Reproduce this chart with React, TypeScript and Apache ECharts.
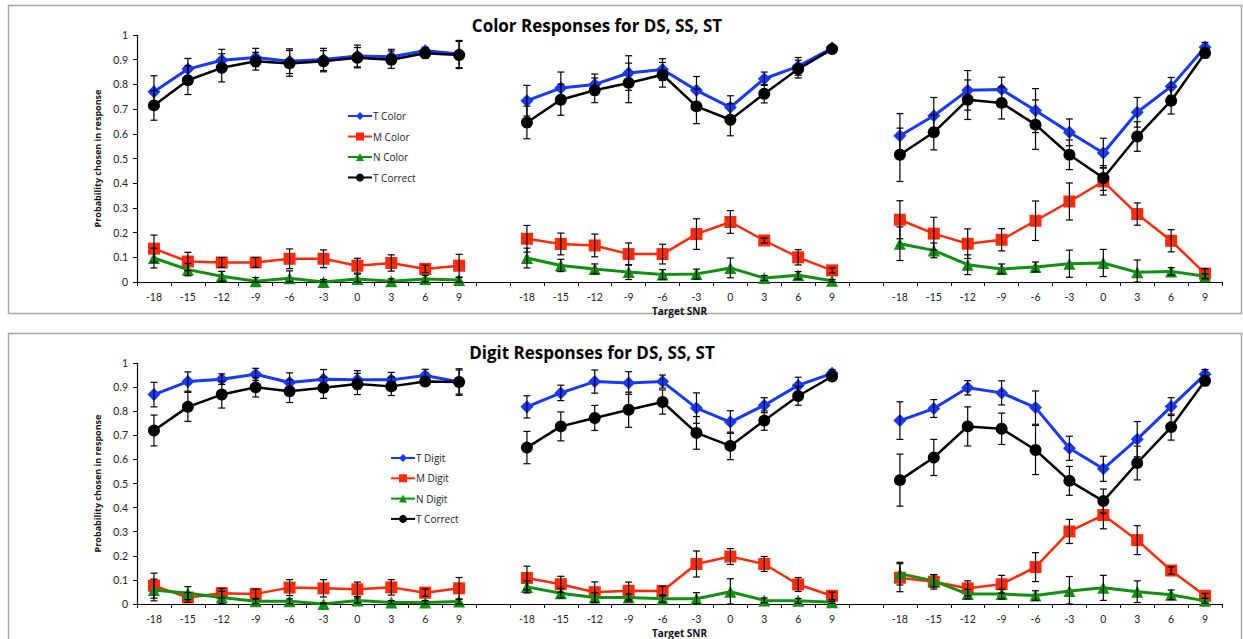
import React, { useEffect, useRef } from "react";
import * as echarts from "echarts";

const snrLabels = ["-18", "-15", "-12", "-9", "-6", "-3", "0", "3", "6", "9"];

// Color panel (DS, SS, ST groups concatenated)
const colorT = [0.77, 0.862, 0.898, 0.909, 0.894, 0.901, 0.915, 0.912, 0.936, 0.923,
  0.734, 0.785, 0.8, 0.846, 0.86, 0.776, 0.707, 0.823, 0.873, 0.947,
  0.592, 0.673, 0.776, 0.779, 0.694, 0.606, 0.522, 0.687, 0.792, 0.95];
const colorTErr = [0.065, 0.043, 0.044, 0.037, 0.05, 0.045, 0.044, 0.03, 0.014, 0.055,
  0.062, 0.065, 0.042, 0.07, 0.044, 0.056, 0.047, 0.027, 0.036, 0.01,
  0.09, 0.074, 0.08, 0.05, 0.089, 0.054, 0.06, 0.06, 0.036, 0.02];
const colorM = [0.135, 0.083, 0.079, 0.079, 0.094, 0.094, 0.066, 0.077, 0.053, 0.066,
  0.175, 0.154, 0.148, 0.113, 0.113, 0.194, 0.243, 0.168, 0.1, 0.047,
  0.252, 0.196, 0.155, 0.171, 0.248, 0.326, 0.407, 0.275, 0.167, 0.034];
const colorMErr = [0.055, 0.037, 0.02, 0.02, 0.04, 0.036, 0.03, 0.033, 0.015, 0.046,
  0.054, 0.044, 0.046, 0.045, 0.04, 0.062, 0.046, 0.01, 0.031, 0.01,
  0.077, 0.066, 0.06, 0.045, 0.08, 0.075, 0.055, 0.045, 0.045, 0.02];
const colorN = [0.097, 0.05, 0.023, 0.003, 0.015, 0.0, 0.012, 0.003, 0.012, 0.008,
  0.097, 0.067, 0.053, 0.04, 0.03, 0.032, 0.057, 0.016, 0.027, 0.005,
  0.155, 0.128, 0.07, 0.053, 0.061, 0.074, 0.077, 0.039, 0.043, 0.023];
const colorNErr = [0.04, 0.025, 0.02, 0.015, 0.03, 0.01, 0.02, 0.01, 0.015, 0.01,
  0.04, 0.025, 0.02, 0.03, 0.02, 0.02, 0.04, 0.01, 0.015, 0.005,
  0.068, 0.03, 0.04, 0.02, 0.02, 0.055, 0.055, 0.05, 0.015, 0.01];
const colorCorrect = [0.715, 0.817, 0.867, 0.894, 0.885, 0.894, 0.908, 0.9, 0.926, 0.919,
  0.646, 0.738, 0.776, 0.806, 0.839, 0.711, 0.657, 0.762, 0.862, 0.943,
  0.515, 0.606, 0.738, 0.725, 0.637, 0.515, 0.421, 0.589, 0.734, 0.927];
const colorCorrectErr = [0.06, 0.058, 0.057, 0.036, 0.052, 0.043, 0.041, 0.035, 0.02, 0.055,
  0.066, 0.063, 0.05, 0.08, 0.05, 0.07, 0.065, 0.037, 0.036, 0.01,
  0.108, 0.071, 0.08, 0.065, 0.1, 0.06, 0.05, 0.06, 0.054, 0.02];

// Digit panel
const digitT = [0.869, 0.923, 0.933, 0.953, 0.919, 0.933, 0.93, 0.93, 0.948, 0.921,
  0.818, 0.876, 0.923, 0.917, 0.923, 0.813, 0.755, 0.825, 0.907, 0.957,
  0.761, 0.811, 0.897, 0.876, 0.815, 0.646, 0.561, 0.684, 0.819, 0.953];
const digitTErr = [0.051, 0.04, 0.022, 0.025, 0.04, 0.04, 0.038, 0.031, 0.026, 0.05,
  0.046, 0.032, 0.048, 0.047, 0.027, 0.063, 0.047, 0.031, 0.034, 0.015,
  0.078, 0.037, 0.03, 0.05, 0.069, 0.05, 0.052, 0.073, 0.037, 0.02];
const digitM = [0.076, 0.027, 0.045, 0.042, 0.068, 0.065, 0.061, 0.069, 0.047, 0.065,
  0.108, 0.082, 0.049, 0.055, 0.054, 0.166, 0.197, 0.166, 0.081, 0.034,
  0.109, 0.092, 0.065, 0.082, 0.153, 0.301, 0.369, 0.265, 0.139, 0.034];
const digitMErr = [0.052, 0.02, 0.02, 0.02, 0.033, 0.036, 0.03, 0.032, 0.015, 0.045,
  0.049, 0.033, 0.043, 0.036, 0.02, 0.054, 0.033, 0.031, 0.029, 0.015,
  0.058, 0.03, 0.031, 0.037, 0.06, 0.05, 0.057, 0.06, 0.015, 0.01];
const digitN = [0.058, 0.045, 0.027, 0.011, 0.011, 0.0, 0.015, 0.006, 0.006, 0.01,
  0.071, 0.045, 0.027, 0.027, 0.022, 0.022, 0.051, 0.015, 0.013, 0.007,
  0.126, 0.096, 0.041, 0.041, 0.035, 0.054, 0.067, 0.051, 0.038, 0.013];
const digitNErr = [0.045, 0.027, 0.025, 0.01, 0.01, 0.005, 0.01, 0.008, 0.008, 0.01,
  0.025, 0.02, 0.02, 0.015, 0.015, 0.025, 0.054, 0.01, 0.01, 0.005,
  0.047, 0.025, 0.02, 0.02, 0.02, 0.06, 0.052, 0.045, 0.02, 0.01];
const digitCorrect = [0.72, 0.818, 0.869, 0.899, 0.883, 0.897, 0.913, 0.903, 0.923, 0.921,
  0.649, 0.737, 0.772, 0.806, 0.838, 0.71, 0.656, 0.761, 0.863, 0.944,
  0.514, 0.608, 0.737, 0.727, 0.639, 0.511, 0.427, 0.585, 0.734, 0.926];
const digitCorrectErr = [0.064, 0.06, 0.056, 0.04, 0.047, 0.044, 0.044, 0.038, 0.018, 0.055,
  0.067, 0.06, 0.052, 0.073, 0.05, 0.068, 0.057, 0.04, 0.038, 0.015,
  0.108, 0.075, 0.081, 0.065, 0.102, 0.06, 0.05, 0.07, 0.054, 0.02];

const yTicks = { min: 0, max: 1, interval: 0.1 };

const FONT = "'Open Sans', Lato, sans-serif";
const TICKFONT = "Lato, 'Open Sans', sans-serif";
const BLUE = "#1638ff";
const RED = "#ff2a0a";
const GREEN = "#109010";
const BLACK = "#000000";

// 3 groups of 10 with a blank slot between groups
const categories: string[] = [...snrLabels, "", ...snrLabels, "", ...snrLabels];
const catIndex = (i: number) => Math.floor(i / 10) * 11 + (i % 10);

function lineData(vals: number[]) {
  const arr: (number | null)[] = new Array(categories.length).fill(null);
  vals.forEach((v, i) => { arr[catIndex(i)] = v; });
  return arr;
}
function errData(vals: number[], errs: number[]) {
  return vals.map((v, i) => [catIndex(i), v, errs[i]]);
}

const renderErr = (params: any, api: any) => {
  const x = api.value(0);
  const v = api.value(1);
  const e = api.value(2);
  const top = api.coord([x, Math.min(1, v + e)]);
  const bot = api.coord([x, Math.max(0, v - e)]);
  const w = 3.5;
  const st = { stroke: "#000", lineWidth: 1.2 };
  return {
    type: "group",
    children: [
      { type: "line", shape: { x1: top[0], y1: top[1], x2: bot[0], y2: bot[1] }, style: st },
      { type: "line", shape: { x1: top[0] - w, y1: top[1], x2: top[0] + w, y2: top[1] }, style: st },
      { type: "line", shape: { x1: bot[0] - w, y1: bot[1], x2: bot[0] + w, y2: bot[1] }, style: st },
    ],
  };
};

export default function App() {
  const ref = useRef<HTMLDivElement>(null);
  useEffect(() => {
    if (!ref.current) return;
    const chart = echarts.init(ref.current, null, { renderer: "svg" });

    const panels = [
      {
        names: ["T Color", "M Color", "N Color", "T Correct"],
        vals: [colorT, colorM, colorN, colorCorrect],
        errs: [colorTErr, colorMErr, colorNErr, colorCorrectErr],
      },
      {
        names: ["T Digit", "M Digit", "N Digit", "T Correct"],
        vals: [digitT, digitM, digitN, digitCorrect],
        errs: [digitTErr, digitMErr, digitNErr, digitCorrectErr],
      },
    ];
    const styles = [
      { color: BLUE, symbol: "diamond", size: 13, width: 3 },
      { color: RED, symbol: "rect", size: 12, width: 2.5 },
      { color: GREEN, symbol: "triangle", size: 12, width: 3 },
      { color: BLACK, symbol: "circle", size: 12, width: 2.5 },
    ];

    const series: any[] = [];
    panels.forEach((p, pi) => {
      p.names.forEach((n, si) => {
        const s = styles[si];
        series.push({
          type: "line",
          name: n,
          xAxisIndex: pi,
          yAxisIndex: pi,
          data: lineData(p.vals[si]),
          connectNulls: false,
          symbol: s.symbol,
          symbolSize: s.size,
          lineStyle: { color: s.color, width: s.width },
          itemStyle: { color: s.color },
          z: 2 + si,
        });
        series.push({
          type: "custom",
          name: n + " err",
          xAxisIndex: pi,
          yAxisIndex: pi,
          data: errData(p.vals[si], p.errs[si]),
          renderItem: renderErr,
          z: 10,
          silent: true,
        });
      });
    });

    const grids = [
      { left: 137, right: 21, top: 35, height: 247 },
      { left: 137, right: 21, top: 363, height: 246 },
    ];

    const xAxes = grids.map((_, i) => ({
      type: "category",
      gridIndex: i,
      data: categories,
      boundaryGap: true,
      name: "Target SNR",
      nameLocation: "middle",
      nameGap: 24,
      nameTextStyle: { fontFamily: FONT, fontWeight: "bold", fontSize: 10, color: "#111" },
      axisLine: { lineStyle: { color: "#000", width: 1.2 } },
      axisTick: { show: true, interval: 0, length: 4, lineStyle: { color: "#000" } },
      axisLabel: { interval: 0, fontFamily: TICKFONT, fontSize: 10.5, color: "#222", margin: 9 },
      splitLine: { show: false },
    }));
    const yAxes = grids.map((_, i) => ({
      type: "value",
      gridIndex: i,
      ...yTicks,
      name: "Probability chosen in response",
      nameLocation: "middle",
      nameGap: 31,
      nameTextStyle: { fontFamily: FONT, fontWeight: "bold", fontSize: 9, color: "#111" },
      axisLine: { show: true, lineStyle: { color: "#000", width: 1.2 } },
      axisTick: { show: true, length: 4, lineStyle: { color: "#000" } },
      axisLabel: { fontFamily: TICKFONT, fontSize: 10.5, color: "#222", margin: 9 },
      splitLine: { show: false },
    }));

    const legendText = { fontFamily: FONT, fontSize: 10, color: "#222", padding: [0, 0, 0, -4] };

    chart.setOption({
      animation: false,
      backgroundColor: "#ffffff",
      title: [
        {
          text: "Color Responses for DS, SS, ST",
          left: 592, top: 12, textAlign: "center",
          textStyle: { fontFamily: FONT, fontWeight: "bold", fontSize: 17, color: "#000" },
        },
        {
          text: "Digit Responses for DS, SS, ST",
          left: 587, top: 339, textAlign: "center",
          textStyle: { fontFamily: FONT, fontWeight: "bold", fontSize: 17, color: "#000" },
        },
      ],
      legend: [
        {
          data: panels[0].names, orient: "vertical", left: 342, top: 106,
          itemWidth: 24, itemHeight: 10, itemGap: 10.5,
          textStyle: legendText,
          selectedMode: false,
        },
        {
          data: panels[1].names, orient: "vertical", left: 385, top: 448,
          itemWidth: 24, itemHeight: 10, itemGap: 10.3,
          textStyle: legendText,
          selectedMode: false,
        },
      ],
      graphic: [
        { type: "rect", shape: { x: 8.5, y: 5.5, width: 1233, height: 308 }, style: { fill: "none", stroke: "#a6a6a6", lineWidth: 1.5 }, silent: true, z: -1 },
        { type: "rect", shape: { x: 8.5, y: 333.5, width: 1233, height: 320 }, style: { fill: "none", stroke: "#a6a6a6", lineWidth: 1.5 }, silent: true, z: -1 },
      ],
      grid: grids,
      xAxis: xAxes,
      yAxis: yAxes,
      series,
    });
    return () => chart.dispose();
  }, []);

  return (
    <div
      ref={ref}
      style={{ position: "absolute", left: 0, top: 0, width: 1243, height: 639 }}
    />
  );
}
